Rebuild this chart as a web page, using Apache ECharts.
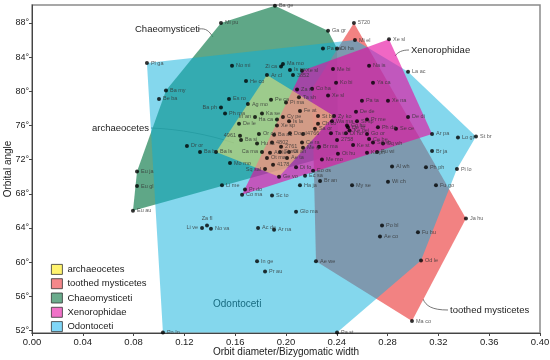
<!DOCTYPE html>
<html><head><meta charset="utf-8">
<script src="https://cdn.jsdelivr.net/npm/echarts@6/dist/echarts.min.js"></script>
<style>html,body{margin:0;padding:0;background:#fff}#c{width:550px;height:360px}</style>
</head><body><div id="c"></div>
<script>
// ---- data ----
const pointNames = ['Pl ga','Ba my','Be ba','Ba ge','Mi pu','Ga gr','Pa pa','Di ha','No mi','Zi ca','Ma mo','Is pa','3852','Xe sl','Ar cl','Me bi','He co','Ko bi','Za m','Co ha','Xe sl','Ta sh','Pe ca','Es ro','Ba ph','Ph ma','5720','Mi el','Xe sl','Na is','Ya ca','La ac','Pa ta','Xe na','De de','De di','Dr or','Ba br','Eu ja','Eu gl','Eu au','In an','Ka se','Ha ca','De le','Cy pe','Fe at','St bo','Zy ko','Is la','Xe sp','Ch co','Wa ma','Co hu','Do al','Sa or','Ta te','Di ho','4961','Ba si','Or or','Ba ac','4766','Hu ra','4802','Ca ma','2761','Ce ra','Me gi','Br ma','2758','Ot hu','An lu','Si ma','Ol an','Ot ma','Ae ta','Mo mo','4178','Sq sal','Di fo','Ge vo','Ec sa','Eo os','Br an','Me mo','Ha ja','Li me','Pr do','Co ma','Sc to','Glo ma','My se','Ba ls','Pr me','St sp','Ph da','Se ce','De br','Ke gei','Go or','Ce be','Sq sh','Sq wh','Ke st','Pu wi','Ke ph','Ar pa','Lo gi','St br','Br ja','Al wh','Ph ph','Pi lo','Wi ch','Fu go','Ja hu','Po bl','Ae co','Fu bu','Od le','Ma co','Za fl','Li ve','No va','Ac de','Ar na','In ge','Pr au','Ae we','Pa st','Po In','Ag mo','Pi ma'];
const pointX = [0.0905,0.1055,0.1000,0.1913,0.1488,0.2331,0.2291,0.2402,0.1575,0.1961,0.1976,0.2031,0.2055,0.2126,0.1850,0.2370,0.1685,0.2394,0.2087,0.2205,0.2331,0.2102,0.1882,0.1551,0.1488,0.1520,0.2535,0.2543,0.2811,0.2654,0.2685,0.2961,0.2598,0.2803,0.2551,0.2961,0.1220,0.1323,0.0827,0.0827,0.0795,0.1756,0.1811,0.1929,0.1630,0.1976,0.2110,0.2252,0.2378,0.2024,0.1929,0.2252,0.2362,0.2480,0.2031,0.2228,0.2354,0.2472,0.1638,0.1646,0.1787,0.1906,0.2134,0.1772,0.1890,0.1811,0.1961,0.2126,0.2134,0.2260,0.2402,0.2409,0.1874,0.1953,0.2024,0.1850,0.2008,0.1559,0.1898,0.1835,0.2079,0.1945,0.2150,0.2213,0.2268,0.2283,0.2110,0.1496,0.1677,0.1654,0.1890,0.2079,0.2520,0.1449,0.2638,0.2559,0.2724,0.2866,0.2488,0.2500,0.2638,0.2654,0.2685,0.2764,0.2528,0.2717,0.2638,0.3150,0.3354,0.3496,0.3150,0.2835,0.3102,0.3346,0.2803,0.3181,0.3417,0.2756,0.2740,0.3039,0.3063,0.2992,0.1378,0.1339,0.1409,0.1780,0.1906,0.1772,0.1835,0.2236,0.2402,0.1031,0.1700,0.2000];
const pointY = [83.3,80.1,79.1,90.0,88.0,87.1,85.0,85.0,83.0,82.9,83.2,82.5,81.9,82.4,81.9,82.6,81.2,81.0,80.2,80.3,79.5,79.3,79.0,79.1,78.1,77.4,88.0,86.0,86.1,83.0,81.0,82.3,78.9,78.9,77.6,77.0,73.6,72.9,70.6,68.9,66.0,77.0,77.4,76.7,76.2,77.0,77.7,77.1,77.1,76.5,76.0,76.2,76.5,76.0,75.1,75.6,75.1,75.1,74.8,74.3,75.0,74.9,75.0,73.9,74.0,72.9,73.5,74.0,73.4,73.5,74.3,72.7,72.8,72.9,72.9,72.2,72.2,71.6,71.4,70.9,71.1,70.0,70.1,70.7,69.5,72.0,69.0,69.0,68.5,67.9,67.8,65.9,69.0,72.9,76.7,76.5,75.8,75.6,75.8,75.4,75.0,74.4,74.0,73.9,73.7,72.9,72.8,75.0,74.6,74.7,73.0,71.2,71.1,70.9,69.4,69.0,65.1,64.3,63.0,63.5,60.2,53.1,64.3,64.0,63.9,64.0,63.8,60.1,58.9,60.1,51.75,51.75,78.5,78.7];
const leftLabelNames = ['Zi ca','Ba ph','In an','Ha ca','4961','Ca ma','Sq sal','Li ve'];
const topLabelNames = ['Za fl'];

const yTicks = [52,56,60,64,68,72,76,80,84,88];

// drawing order, bottom to top
const groupNames = ['Chaeomysticeti','toothed mysticetes','Odontoceti','Xenorophidae','archaeocetes'];
const legendOrder = ['archaeocetes','toothed mysticetes','Chaeomysticeti','Xenorophidae','Odontoceti'];
const groupFill = {
  'Chaeomysticeti':'rgba(55,145,105,0.8)',
  'toothed mysticetes':'rgba(239,99,99,0.8)',
  'Odontoceti':'rgba(10,176,220,0.5)',
  'Xenorophidae':'rgba(230,10,160,0.62)',
  'archaeocetes':'rgba(255,232,105,0.52)'
};
const groupSwatch = {
  'archaeocetes':'#fff36e','toothed mysticetes':'#f4878a','Chaeomysticeti':'#6aab8c','Xenorophidae':'#f071c8','Odontoceti':'#7fd6f7'
};
const odontocetiHull = [[0.0905,83.3],[0.2543,86.0],[0.2961,82.3],[0.3496,74.7],[0.3346,70.9],[0.3063,60.2],[0.2402,51.75],[0.1031,51.75]];
const chaeomysticetiHull = [[0.1913,90.0],[0.2331,87.1],[0.2402,85.0],[0.2409,72.7],[0.0795,66.0],[0.0827,70.6],[0.1055,80.1],[0.1488,88.0]];
const toothedHull = [[0.2535,88.0],[0.3417,65.1],[0.2992,53.1],[0.2236,60.1],[0.2205,80.3]];
const xenoHull = [[0.2811,86.1],[0.3150,75.0],[0.1654,67.9],[0.2126,82.4]];
const archaeoHull = [[0.1850,81.9],[0.2378,77.1],[0.1945,70.0],[0.1449,72.9]];
const hulls = {
  'Odontoceti':odontocetiHull,'Chaeomysticeti':chaeomysticetiHull,'toothed mysticetes':toothedHull,'Xenorophidae':xenoHull,'archaeocetes':archaeoHull
};

// ---- chart ----
const chart = echarts.init(document.getElementById('c'), null, {renderer:'canvas'});
const FONT = 'Liberation Sans, Arial, sans-serif';

const polySeries = groupNames.map(g => ({
  name: g,
  type: 'custom',
  coordinateSystem: 'cartesian2d',
  data: hulls[g],
  itemStyle: {color: groupSwatch[g]},
  silent: true,
  z: 1,
  renderItem: function(params, api){
    if (params.dataIndex !== 0) return null;
    const pts = hulls[g].map(v => api.coord(v));
    return {type:'polygon', shape:{points:pts}, style:{fill: groupFill[g], stroke:'none'}};
  }
}));

const scatterData = pointNames.map((n,i) => {
  const item = {name:n, value:[pointX[i], pointY[i]]};
  if (leftLabelNames.includes(n)) item.label = {position:'left'};
  if (topLabelNames.includes(n)) item.label = {position:'top'};
  return item;
});

chart.setOption({
  animation:false,
  backgroundColor:'#fff',
  grid:{left:32, right:10, top:5, bottom:27, containLabel:false, outerBoundsMode:'none', show:true, borderColor:'#8a8a8a', borderWidth:1.5, backgroundColor:'transparent'},
  xAxis:{
    type:'value', min:0, max:0.4, interval:0.04,
    name:'Orbit diameter/Bizygomatic width', nameLocation:'middle', nameGap:14, nameMoveOverlap:false,
    nameTextStyle:{fontFamily:FONT, fontSize:10, color:'#222'},
    axisLine:{lineStyle:{color:'#444', width:1}},
    axisTick:{show:true, length:3, lineStyle:{color:'#444'}},
    axisLabel:{fontFamily:FONT, fontSize:9.5, color:'#222', margin:4, formatter:v=>v.toFixed(2)},
    splitLine:{show:false}
  },
  yAxis:{
    type:'value', min:51.7, max:90.1,
    name:'Orbital angle', nameLocation:'middle', nameGap:19, nameMoveOverlap:false,
    nameTextStyle:{fontFamily:FONT, fontSize:10, color:'#222'},
    axisLine:{show:true, lineStyle:{color:'#444', width:1}},
    axisTick:{show:true, length:3, customValues:yTicks, lineStyle:{color:'#444'}},
    axisLabel:{fontFamily:FONT, fontSize:9, color:'#222', margin:3, customValues:yTicks, formatter:v=>Math.round(v)+'°'},
    splitLine:{show:false}
  },
  legend:{
    orient:'vertical', left:46, top:259, itemWidth:11, itemHeight:10, itemGap:3.5,
    icon:'rect', selectedMode:false,
    textStyle:{fontFamily:FONT, fontSize:9.5, color:'#222'},
    data: legendOrder.map(n => ({name:n, itemStyle:{color:groupSwatch[n], borderColor:'#333', borderWidth:0.8}}))
  },
  series: polySeries.concat([{
    type:'scatter', name:'taxa', z:5,
    symbolSize:4, itemStyle:{color:'#000'},
    label:{show:true, position:'right', distance:2, formatter:'{b}', fontFamily:FONT, fontSize:5.5, color:'#333'},
    data: scatterData
  }]),
  graphic:[
    {type:'text', left:135, top:24, style:{text:'Chaeomysticeti', fontFamily:FONT, fontSize:9.5, fill:'#222'}},
    {type:'bezierCurve', shape:{x1:199,y1:29,cpx1:206,cpy1:28,cpx2:209,cpy2:31,x2:213,y2:37}, style:{stroke:'#555', lineWidth:0.8, fill:null}},
    {type:'text', left:411, top:45, style:{text:'Xenorophidae', fontFamily:FONT, fontSize:9.5, fill:'#222'}},
    {type:'bezierCurve', shape:{x1:409,y1:50,cpx1:402,cpy1:50,cpx2:398,cpy2:52,x2:395,y2:56}, style:{stroke:'#555', lineWidth:0.8, fill:null}},
    {type:'text', left:92, top:123, style:{text:'archaeocetes', fontFamily:FONT, fontSize:9.5, fill:'#222'}},
    {type:'bezierCurve', shape:{x1:151,y1:128,cpx1:180,cpy1:129,cpx2:210,cpy2:135,x2:234,y2:143}, style:{stroke:'#555', lineWidth:0.8, fill:null}},
    {type:'text', left:450, top:305, style:{text:'toothed mysticetes', fontFamily:FONT, fontSize:9.5, fill:'#222'}},
    {type:'bezierCurve', shape:{x1:448,y1:310,cpx1:432,cpy1:310,cpx2:426,cpy2:306,x2:423,y2:299}, style:{stroke:'#555', lineWidth:0.8, fill:null}},
    {type:'text', left:213, top:299, style:{text:'Odontoceti', fontFamily:FONT, fontSize:10, fill:'#222'}}
  ]
});
</script></body></html>
